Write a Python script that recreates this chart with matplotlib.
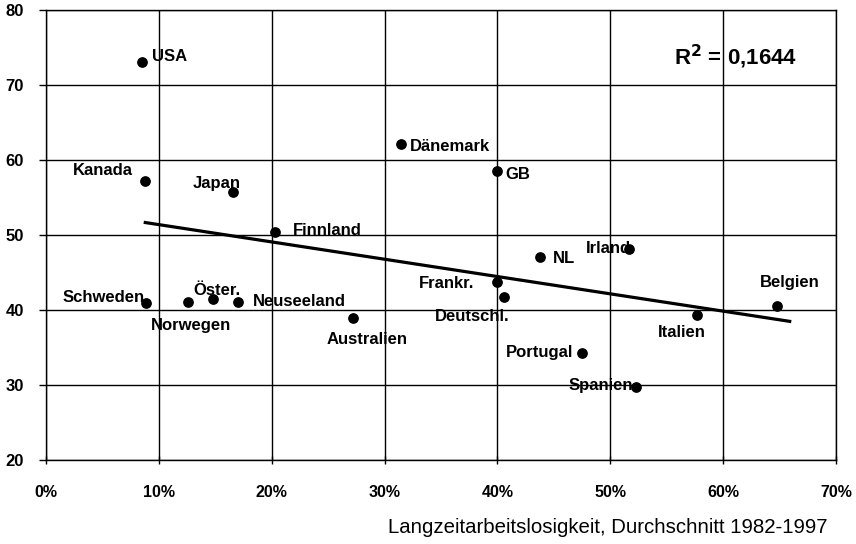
import numpy as np
import matplotlib
matplotlib.use("Agg")
import matplotlib.pyplot as plt
from matplotlib.ticker import FuncFormatter, MultipleLocator

plt.rcParams['font.family'] = ['Liberation Sans', 'DejaVu Sans']

# Long-term unemployment share (%) vs. indicator value, 1982-1997 averages
countries = ["USA", "Kanada", "Japan", "Finnland", "Dänemark", "GB", "NL", "Irland",
             "Frankr.", "Deutschl.", "Belgien", "Italien", "Portugal", "Spanien",
             "Schweden", "Norwegen", "Öster.", "Neuseeland", "Australien"]
long_term = [8.5, 8.8, 16.6, 20.3, 31.5, 40.0, 43.8, 51.7,
             40.0, 40.6, 64.8, 57.7, 47.5, 52.3,
             8.9, 12.6, 14.8, 17.0, 27.2]
values = [73.1, 57.3, 55.8, 50.5, 62.2, 58.6, 47.1, 48.1,
          43.7, 41.8, 40.5, 39.3, 34.3, 29.8,
          41.0, 41.1, 41.5, 41.1, 38.9]

# linear trend (slope, intercept) and its x-range, with the fit quality
trend_slope = -0.231
trend_intercept = 53.73
trend_range = [8.8, 65.9]
r_squared = 0.1644

# label offsets in points and horizontal alignment
label_layout = {
    "USA": (7, 4, "left"), "Kanada": (-9, 7, "right"), "Japan": (-12, 6, "center"),
    "Finnland": (13, 1, "left"), "Dänemark": (6, -2, "left"), "GB": (6, -3, "left"),
    "NL": (9, -1, "left"), "Irland": (1, 1, "right"), "Frankr.": (-17, -1, "right"),
    "Deutschl.": (-23, -14, "center"), "Belgien": (9, 17, "center"),
    "Italien": (-11, -12, "center"), "Portugal": (-6, 0, "right"),
    "Spanien": (-2, 1, "right"), "Schweden": (-1, 4, "right"),
    "Norwegen": (2, -17, "center"), "Öster.": (3, 6, "center"),
    "Neuseeland": (11, 0, "left"), "Australien": (10, -15, "center"),
}

fig = plt.figure(figsize=(8.56, 5.44), dpi=100)
ax = fig.add_axes([0.0537, 0.1544, 0.9229, 0.8263])

ax.set_xlim(0, 70)
ax.set_ylim(20, 80)
ax.xaxis.set_major_locator(MultipleLocator(10))
ax.yaxis.set_major_locator(MultipleLocator(10))
ax.xaxis.set_major_formatter(FuncFormatter(lambda v, p: f"{v:.0f}%"))
ax.grid(True, color="black", linewidth=1.0)
ax.set_axisbelow(True)
for s in ax.spines.values():
    s.set_linewidth(1.0)

ax.tick_params(axis="y", direction="out", length=5, width=1, pad=11, labelsize=12)
ax.tick_params(axis="x", direction="inout", length=6, width=1, pad=15, labelsize=11.5)
for lab in ax.get_xticklabels() + ax.get_yticklabels():
    lab.set_fontweight("bold")

x = np.array(long_term)
y = np.array(values)
ax.scatter(x, y, s=45, color="black", zorder=3)

xt = np.array(trend_range)
ax.plot(xt, trend_slope * xt + trend_intercept, color="black", linewidth=2.3, zorder=3)

for name, xi, yi in zip(countries, x, y):
    dx, dy, ha = label_layout[name]
    ax.annotate(name, (xi, yi), xytext=(dx, dy), textcoords="offset points",
                ha=ha, va="center", fontsize=12, fontweight="bold", zorder=4)

r2_text = f"R$^\\mathbf{{2}}$ = {r_squared:.4f}".replace(".", ",")
ax.text(0.873, 0.897, r2_text, transform=ax.transAxes, ha="center", va="center",
        fontsize=16, fontweight="bold")

fig.text(0.967, 0.031, "Langzeitarbeitslosigkeit, Durchschnitt 1982-1997",
         ha="right", va="center", fontsize=14.7)

fig.savefig("out.png", dpi=100)
